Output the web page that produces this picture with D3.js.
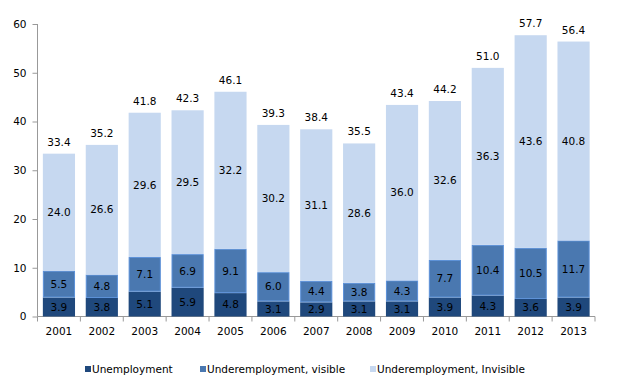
<!DOCTYPE html>
<html>
<head>
<meta charset="utf-8">
<script src="https://cdn.jsdelivr.net/npm/d3@7"></script>
<style>
  body { margin: 0; background: #fff; }
  text { font-family: "DejaVu Sans", Verdana, sans-serif; font-size: 10.5px; fill: #000; }
</style>
</head>
<body>
<svg id="chart" width="618" height="386"></svg>
<script>
// data
var years = ["2001","2002","2003","2004","2005","2006","2007","2008","2009","2010","2011","2012","2013"]
var unemployment = [3.9, 3.8, 5.1, 5.9, 4.8, 3.1, 2.9, 3.1, 3.1, 3.9, 4.3, 3.6, 3.9]
var visible = [5.5, 4.8, 7.1, 6.9, 9.1, 6.0, 4.4, 3.8, 4.3, 7.7, 10.4, 10.5, 11.7]
var invisible = [24.0, 26.6, 29.6, 29.5, 32.2, 30.2, 31.1, 28.6, 36.0, 32.6, 36.3, 43.6, 40.8]
var totals = [33.4, 35.2, 41.8, 42.3, 46.1, 39.3, 38.4, 35.5, 43.4, 44.2, 51.0, 57.7, 56.4]
var seriesNames = ["Unemployment", "Underemployment, visible", "Underemployment, Invisible"]
var yTicks = [0, 10, 20, 30, 40, 50, 60]

var colors = ["#1f487c", "#4a78b0", "#c6d8f0"]
var strokes = ["none", "#5b90d8", "none"]

var svg = d3.select("#chart")
var plotL = 37.5, plotR = 595, plotT = 24, plotB = 316.5

var x = d3.scaleBand().domain(years).range([plotL, plotR]).paddingInner(0.25).paddingOuter(0.125)
var y = d3.scaleLinear().domain([0, 60]).range([plotB, plotT])

var table = years.map((d, i) => ({year: d, s0: unemployment[i], s1: visible[i], s2: invisible[i], total: totals[i]}))
var stack = d3.stack().keys(["s0", "s1", "s2"])(table)

// axes
var yAxis = svg.append('g').attr('transform', `translate(${plotL},0)`)
  .call(d3.axisLeft(y).tickValues(yTicks).tickSize(5).tickPadding(6).tickFormat(d3.format("d")))
yAxis.selectAll('line').attr('stroke', '#999')
yAxis.select('.domain').attr('stroke', '#999').attr('d', `M0,${plotT}V${plotB}`)
yAxis.selectAll('text').attr('font-size', null).attr('font-family', null)

var xb = svg.append('g').attr('transform', `translate(0,${plotB})`)
xb.append('line').attr('x1', plotL).attr('x2', plotR).attr('stroke', '#999')
xb.selectAll('line.tk').data(d3.range(years.length + 1)).enter().append('line')
  .attr('class', 'tk')
  .attr('x1', i => plotL + i * x.step()).attr('x2', i => plotL + i * x.step())
  .attr('y1', 0).attr('y2', 5).attr('stroke', '#999')
xb.selectAll('text').data(years).enter().append('text')
  .attr('x', d => x(d) + x.bandwidth() / 2)
  .attr('y', 18)
  .attr('text-anchor', 'middle')
  .text(d => d)

// bars
stack.forEach((layer, k) => {
  var g = svg.append('g')
  g.selectAll('rect').data(layer).enter().append('rect')
    .attr('x', d => x(d.data.year) + (k == 1 ? 0.5 : 0))
    .attr('y', d => y(d[1]) + (k == 1 ? 0.5 : 0))
    .attr('width', x.bandwidth() - (k == 1 ? 1 : 0))
    .attr('height', d => y(d[0]) - y(d[1]) - (k == 1 ? 1 : 0))
    .attr('fill', colors[k])
    .attr('stroke', strokes[k])
    .attr('stroke-width', 1)
})

// segment labels
stack.forEach((layer, k) => {
  svg.append('g').selectAll('text').data(layer).enter().append('text')
    .attr('x', d => x(d.data.year) + x.bandwidth() / 2)
    .attr('y', d => y((d[0] + d[1]) / 2))
    .attr('dy', '0.35em')
    .attr('text-anchor', 'middle')
    .text(d => (d[1] - d[0]).toFixed(1))
})

// totals
svg.append('g').selectAll('text').data(table).enter().append('text')
  .attr('x', d => x(d.year) + x.bandwidth() / 2)
  .attr('y', d => y(d.total) - 8)
  .attr('text-anchor', 'middle')
  .text(d => d.total.toFixed(1))

// legend
var legendX = [85, 200, 370]
var lg = svg.append('g').attr('transform', 'translate(0,369)')
seriesNames.forEach((name, i) => {
  lg.append('rect').attr('x', legendX[i]).attr('y', -3).attr('width', 6).attr('height', 6).attr('fill', colors[i])
  lg.append('text').attr('x', legendX[i] + 7).attr('y', 0).attr('dy', '0.35em').text(name)
})
</script>
</body>
</html>
